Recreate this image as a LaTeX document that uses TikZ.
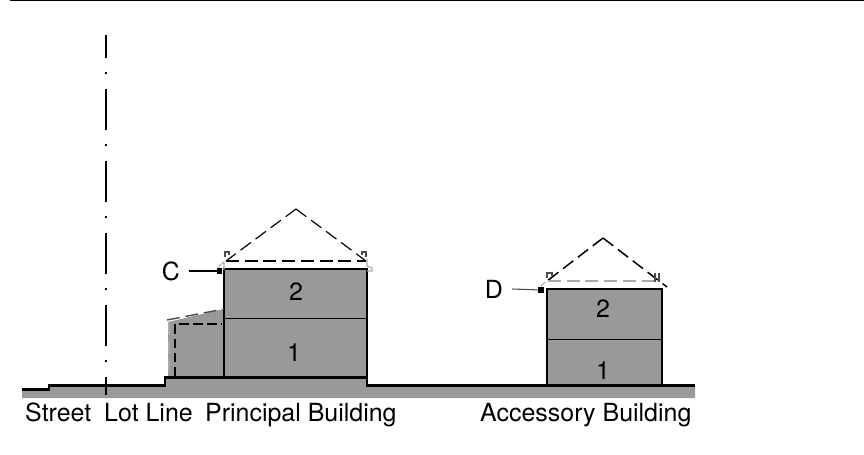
\documentclass[tikz,border=0pt]{standalone}
\usepackage{fontspec}
\setmainfont{TeX Gyre Heros}
\definecolor{wallgray}{HTML}{999999}
\definecolor{pale}{HTML}{AAAAAA}
\tikzset{
  heavy/.style={line width=2.2pt},
  thin line/.style={line width=0.9pt},
  dash line/.style={line width=1pt,dash pattern=on 11pt off 5pt},
  label/.style={inner sep=0pt,font=\fontsize{21.3pt}{24pt}\selectfont},
  corner/.style={inner sep=0pt,minimum size=4.5pt,fill=black},
}
\begin{document}
\begin{tikzpicture}[line cap=butt,line join=miter,x=0.03cm,y=-0.03cm]
\useasboundingbox (0,0) rectangle (864,455);
\draw [line width=1.2pt] (10,0.7)--(864,0.7);
%
% ground
\fill [wallgray] (22,389)--(49,389)--(49,385)--(165,385)--(165,377)--(367,377)--(367,385)--(695,385)--(695,398)--(22,398)--cycle;
%
% principal building
\fill [wallgray] (168,322)--(224,309)--(224,377)--(168,377)--cycle;
\fill [wallgray] (224,269) rectangle (367,377);
\draw [heavy] (224,377)--(224,269)--(367,269)--(367,377);
\draw [line width=0.7pt] (224,318.5)--(367,318.5);
\draw [dash line,black!70,line width=1.2pt] (167,320)--(224,309);
\draw [dash line,pale] (169,322)--(169,377);
\draw [line width=0.9pt,dash pattern=on 8pt off 4pt] (175,376)--(175,324)--(222,324);
% roof
\draw [dash line] (296,209)--(226,261);
\draw [dash line] (296,209)--(366,261);
\draw [dash line] (226,261)--(366,261);
\begin{scope}[thin line]
\draw [black!70] (225,257)--(225,252)--(229,252)--(229,255);
\draw [black!70] (362,255)--(362,252)--(366,252)--(366,257);
\draw [pale] (219,269)--(219,266)--(224,262)--(224,270);
\draw [pale] (367,259)--(367,266)--(372,268)--(372,271)--(367,271);
\end{scope}
\node [label] (num2a) at (296,292) {2};
\node [label] (num1a) at (294,353) {1};
\node [corner] (cornerC) at (219.5,271) {};
\node [label] (labelC) at (171,271) {C};
\draw [thin line] (labelC.east)+(9,0) -- (cornerC);
%
% accessory building
\fill [wallgray] (547,289) rectangle (662,385);
\draw [heavy] (547,385)--(547,289)--(662,289)--(662,385);
\draw [line width=0.7pt] (547,339.5)--(662,339.5);
\draw [dash line,line width=1.3pt] (603,238)--(547,281);
\draw [dash line,line width=1.3pt] (603,238)--(667,287);
\draw [dash line,pale] (548,281)--(660,281);
\begin{scope}[thin line]
\draw [black!70] (547,278)--(547,273)--(552,273)--(552,276);
\draw [black!70] (655,282)--(655,273);
\draw [black!70] (659,282)--(659,273);
\draw [pale] (541,286)--(545,282);
\end{scope}
\node [label] (num2b) at (603,309) {2};
\node [label] (num1b) at (603,371) {1};
\node [corner] (cornerD) at (541,290) {};
\node [label] (labelD) at (494,289) {D};
\draw [thin line,black!70] (labelD.east)+(9,0) -- (cornerD);
%
% ground line on top of the walls
\draw [heavy] (22,389.5)--(49,389.5)--(49,385.5)--(165,385.5)--(165,377.5)--(367,377.5)--(367,385.5)--(695,385.5);
%
% lot line
\draw [line width=2pt] (106,35)--(106,58);
\foreach \y in {73,145,217,289,361} \draw [line width=2pt] (106,\y-1.4)--(106,\y+1.4);
\foreach \y in {89,161,233,305} \draw [line width=2pt] (106,\y)--(106,\y+41);
\draw [line width=2pt] (106,377)--(106,395);
%
% captions
\node [label,anchor=base west] (street) at (25,421) {Street};
\node [label,anchor=base west] (lotline) at (104,421) {Lot Line};
\node [label,anchor=base west] (principal) at (205,421) {Principal Building};
\node [label,anchor=base west] (accessory) at (480,421) {Accessory Building};
\end{tikzpicture}
\end{document}
